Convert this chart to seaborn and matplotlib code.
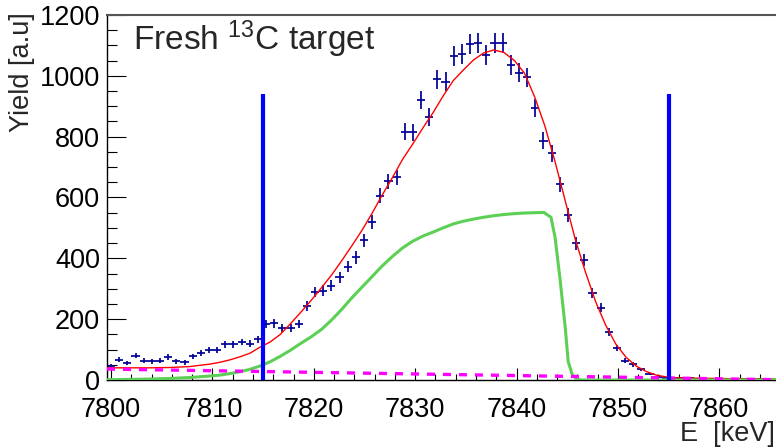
import numpy as np
import pandas as pd
import matplotlib
matplotlib.use("Agg")
import matplotlib.pyplot as plt
from matplotlib.ticker import MultipleLocator
import seaborn as sns

# ---------------- data ----------------
x_range = (7799.6, 7865.6)
n_bins = 82
bin_width = (x_range[1] - x_range[0]) / n_bins
data_x = [x_range[0] + bin_width * (k + 0.5) for k in range(n_bins)]
data_y = [47, 66, 56, 80, 64, 61, 64, 76, 62, 58,
          78, 88, 100, 100, 117, 117, 125, 119, 134, 183,
          186, 170, 170, 184, 243, 290, 294, 310, 338, 373,
          403, 460, 519, 606, 653, 666, 816, 814, 920, 866,
          988, 980, 1065, 1071, 1105, 1109, 1069, 1107, 1109, 1036,
          1010, 995, 893, 787, 745, 643, 542, 449, 395, 287,
          238, 157, 106, 64, 51, 35, 20, 11, 8, 8,
          6, 5, 4, 3, 4, 2, 3, 3, 2, 3, 2, 1]

fit_x = [7799.6, 7801.7, 7803.7, 7805.7, 7807.7, 7809.7, 7810.7, 7811.7, 7812.7, 7813.7,
         7814.7, 7815.7, 7816.7, 7817.7, 7818.7, 7819.75, 7820.75, 7821.75, 7822.75, 7823.75,
         7824.75, 7825.75, 7826.75, 7827.75, 7828.75, 7829.75, 7830.75, 7831.75, 7832.75, 7833.75,
         7834.75, 7835.75, 7836.75, 7837.75, 7838.75, 7839.8, 7840.8, 7841.8, 7842.8, 7843.8,
         7844.8, 7845.8, 7846.8, 7847.8, 7848.8, 7849.8, 7850.8, 7851.8, 7852.8, 7853.8,
         7854.8, 7855.8, 7857.8, 7859.8, 7861.8, 7865.6]
fit_y = [40, 40, 40, 41, 44, 52, 58, 66, 76, 88,
         108, 125, 150, 185, 222, 262, 303, 345, 392, 441,
         492, 548, 608, 665, 725, 775, 828, 878, 933, 984,
         1019, 1052, 1075, 1085, 1077, 1050, 1008, 930, 835, 718,
         590, 462, 355, 258, 180, 118, 75, 46, 28, 16,
         10, 7, 6, 5, 4, 3]

comp_x = [7799.6, 7801.7, 7803.7, 7805.7, 7807.7, 7809.7, 7810.7, 7811.7, 7812.7, 7813.7,
          7814.7, 7815.7, 7816.7, 7817.7, 7818.7, 7819.75, 7820.75, 7821.75, 7822.75, 7823.75,
          7824.75, 7825.75, 7826.75, 7827.75, 7828.75, 7829.75, 7830.75, 7831.75, 7832.75, 7833.75,
          7834.75, 7835.75, 7836.75, 7837.75, 7838.75, 7839.8, 7840.8, 7841.8, 7842.7, 7843.4,
          7843.8, 7844.3, 7844.8, 7845.1, 7845.5, 7845.9, 7846.4, 7865.6]
comp_y = [1, 2, 3, 5, 8, 13, 16, 21, 27, 35,
          46, 60, 78, 98, 120, 142, 166, 197, 232, 270,
          305, 340, 375, 406, 434, 456, 473, 486, 500, 513,
          522, 529, 535, 540, 544, 547, 549, 550, 551, 535,
          470, 330, 175, 60, 18, 4, 0, 0]

bg_x = [7799.6, 7865.6]
bg_y = [36, 1]

window_x = [7815, 7855]
window_top = 940

y_range = (0, 1200)
x_ticks = [7800, 7810, 7820, 7830, 7840, 7850, 7860]
y_ticks = [0, 200, 400, 600, 800, 1000, 1200]

# ---------------- style ----------------
sns.set_style("ticks")
plt.rcParams["font.family"] = ["Liberation Sans", "DejaVu Sans"]
plt.rcParams["mathtext.fontset"] = "custom"
plt.rcParams["mathtext.rm"] = "Liberation Sans"
plt.rcParams["mathtext.it"] = "Liberation Sans:italic"

fig = plt.figure(figsize=(7.76, 4.47), dpi=100)
ax = fig.add_axes([107 / 776, 67 / 447, 669 / 776, 365 / 447])

df_data = pd.DataFrame({"E": data_x, "Y": data_y})
err = np.sqrt(np.array(data_y, dtype=float))
ax.errorbar(df_data["E"], df_data["Y"], yerr=err, xerr=bin_width / 2,
            fmt="none", ecolor="#000099", elinewidth=1.25, capsize=0, zorder=2)

df_fit = pd.DataFrame({"E": fit_x, "Y": fit_y})
sns.lineplot(data=df_fit, x="E", y="Y", ax=ax, color="#ff0000", lw=1.0,
             sort=False, estimator=None, zorder=3)

df_comp = pd.DataFrame({"E": comp_x, "Y": comp_y})
sns.lineplot(data=df_comp, x="E", y="Y", ax=ax, color="#5cd055", lw=2.2,
             sort=False, estimator=None, zorder=4)

df_bg = pd.DataFrame({"E": bg_x, "Y": bg_y})
sns.lineplot(data=df_bg, x="E", y="Y", ax=ax, color="#ff00ff", lw=2.4,
             sort=False, estimator=None, zorder=5)
ax.lines[-1].set_linestyle((0, (2.4, 2.4)))

for wx in window_x:
    ax.vlines(wx, 0, window_top, color="#0000ff", lw=3.0, zorder=6)

ax.set_xlim(*x_range)
ax.set_ylim(*y_range)
ax.set_xticks(x_ticks)
ax.set_yticks(y_ticks)
ax.xaxis.set_minor_locator(MultipleLocator(2))
ax.yaxis.set_minor_locator(MultipleLocator(50))
ax.tick_params(axis="both", which="both", direction="in", colors="black",
               labelsize=19.5, width=0.8)
ax.tick_params(axis="y", which="major", length=13.5, pad=5)
ax.tick_params(axis="y", which="minor", length=7)
ax.tick_params(axis="x", which="major", length=8.5, pad=12)
ax.tick_params(axis="x", which="minor", length=4.5)
ax.set_xlabel("")
ax.set_ylabel("")

for s in ["left", "bottom"]:
    ax.spines[s].set_color("black")
    ax.spines[s].set_linewidth(1.0)
ax.spines["top"].set_color("#555555")
ax.spines["top"].set_linewidth(1.5)
ax.spines["right"].set_visible(False)

fig.text(133 / 776, (447 - 50) / 447, r"Fresh $\mathregular{^{13}}$C target",
         fontsize=24, ha="left", va="baseline")
fig.text(22 / 776, (447 - 12) / 447, "Yield [a.u]", fontsize=19.5,
         rotation=90, ha="center", va="top")
fig.text(775 / 776, 6 / 447, "E  [keV]", fontsize=19.5,
         ha="right", va="baseline")

fig.savefig("out.png", dpi=100)
